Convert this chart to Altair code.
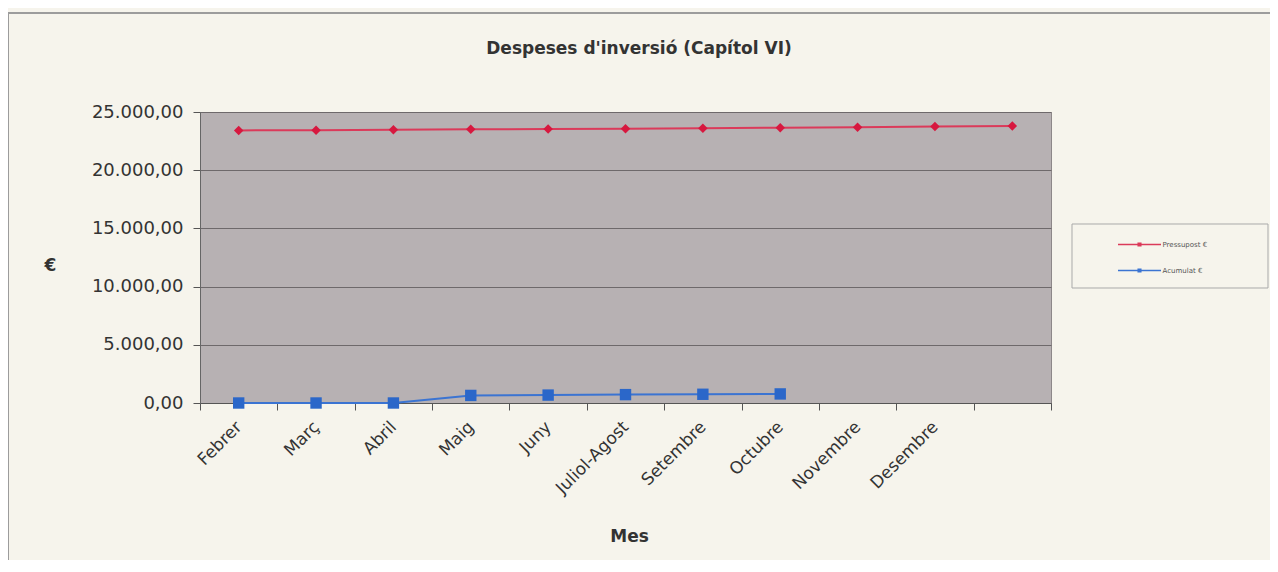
import altair as alt
import pandas as pd

months = ["Febrer", "Març", "Abril", "Maig", "Juny", "Juliol-Agost",
          "Setembre", "Octubre", "Novembre", "Desembre", ""]
pressupost = [23420, 23440, 23480, 23510, 23540, 23570, 23610, 23650, 23700, 23750, 23790]
acumulat = [0, 0, 0, 650, 680, 720, 750, 780]
series_names = ["Pressupost €", "Acumulat €"]
series_colors = ["#d7183f", "#2b67c9"]
line_colors = ["#db3a5a", "#3b74d2"]
series_shapes = ["diamond", "square"]
series_sizes = [90, 130]
y_ticks = [0, 5000, 10000, 15000, 20000, 25000]
chart_title = ["Despeses d'inversió (Capítol VI)"]

rows = []
for m, v in zip(months, pressupost):
    rows.append({"Mes": m, "Valor": v, "Serie": series_names[0]})
for m, v in zip(months, acumulat):
    rows.append({"Mes": m, "Valor": v, "Serie": series_names[1]})
df = pd.DataFrame(rows)
one = pd.DataFrame({"t": chart_title})

FONT = "DejaVu Sans"
TXT = "#333333"

x_enc = alt.X(
    "Mes:N",
    sort=months,
    bandPosition=0.5,
    scale=alt.Scale(type="band", domain=months, paddingInner=0, paddingOuter=0),
    axis=alt.Axis(
        title="Mes", labelAngle=-45, labelAlign="right", labelBaseline="middle",
        labelFontSize=17, labelColor=TXT, labelFont=FONT, labelPadding=14,
        labelOverlap=False, tickBand="extent", tickSize=7, tickColor="#555555",
        domainColor="#555555", titleFont=FONT, titleFontSize=17, titleFontWeight="bold",
        titleColor=TXT, titleY=133, titleBaseline="middle", titleX=429, grid=False,
    ),
)
y_enc = alt.Y(
    "Valor:Q",
    scale=alt.Scale(domain=[0, 25000], nice=False),
    axis=alt.Axis(
        values=y_ticks,
        labelExpr="replace(replace(replace(format(datum.value, ',.2f'), regexp(',', 'g'), '_'), '.', ','), regexp('_', 'g'), '.')",
        labelFontSize=18, labelFont=FONT, labelColor=TXT, labelPadding=10,
        tickSize=7, tickColor="#555555", domainColor="#666666",
        grid=True, gridColor="#6e696b", gridWidth=1,
        title="€", titleAngle=0, titleX=-150, titleY=153, titleFont=FONT,
        titleFontSize=17, titleFontWeight="bold", titleColor=TXT, titleBaseline="middle",
    ),
)

frame = alt.Chart(one).mark_rect(fillOpacity=0, stroke="#9c9c9c", strokeWidth=2).encode(
    x=alt.value(-192), x2=alt.value(1300), y=alt.value(-99), y2=alt.value(700)
)

legend_box = alt.Chart(one).mark_rect(fill="#f6f4ec", stroke="#a9a9a9", strokeWidth=1).encode(
    x=alt.value(872), x2=alt.value(1068), y=alt.value(112), y2=alt.value(176)
)

title = alt.Chart(one).mark_text(
    font=FONT, fontSize=17, fontWeight="bold", color=TXT,
    align="center", baseline="alphabetic",
).encode(text="t:N", x=alt.value(439), y=alt.value(-58))

lines = alt.Chart(df).mark_line(strokeWidth=2).encode(
    x=x_enc,
    y=y_enc,
    color=alt.Color(
        "Serie:N", scale=alt.Scale(domain=series_names, range=line_colors), sort=series_names,
        legend=alt.Legend(
            title=None, orient="none", legendX=872, legendY=113,
            padding=8.5,
            symbolType="M-2.15,0H2.15M-0.13,-0.13H0.13V0.13H-0.13Z",
            symbolSize=400, symbolStrokeWidth=1.5, symbolOffset=48,
            labelOffset=12, labelFontSize=7, labelFont=FONT, labelColor="#555555",
            rowPadding=10,
        ),
    ),
)

point_layers = []
for name, col, shp, sz in zip(series_names, series_colors, series_shapes, series_sizes):
    point_layers.append(
        alt.Chart(df).transform_filter(alt.datum.Serie == name)
        .mark_point(filled=True, opacity=1, strokeWidth=0, color=col, shape=shp, size=sz)
        .encode(x=x_enc, y=y_enc)
    )

chart = alt.layer(frame, legend_box, title, lines, *point_layers).properties(
    width=851, height=291,
    autosize=alt.AutoSizeParams(type="none"),
    padding={"left": 192, "top": 104, "right": 219, "bottom": 157},
).configure(background="#f6f4ec").configure_view(
    fill="#b7b1b3", stroke="#8d8789", strokeWidth=1
)

chart.save("out.html", embed_options={"renderer": "svg", "actions": False})
